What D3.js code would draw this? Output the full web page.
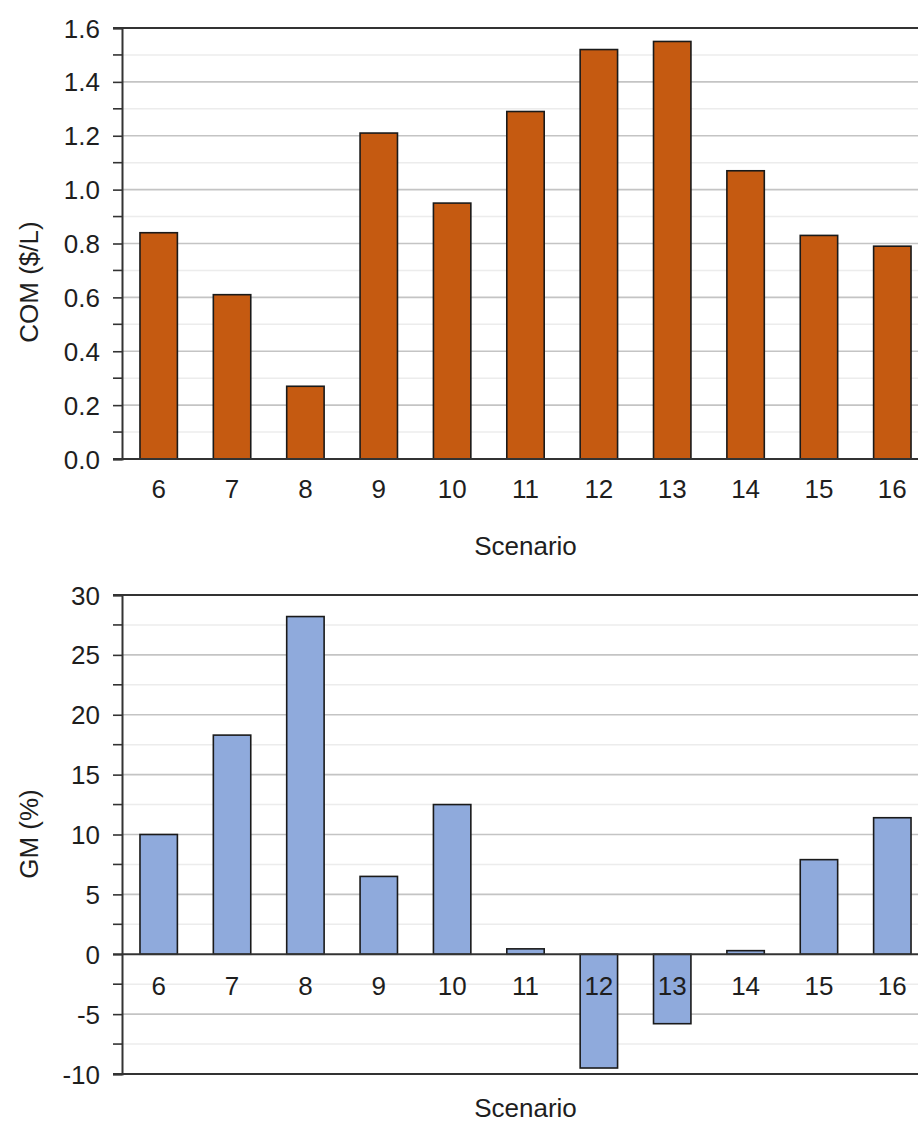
<!DOCTYPE html>
<html>
<head>
<meta charset="utf-8">
<script src="https://cdn.jsdelivr.net/npm/d3@7/dist/d3.min.js"></script>
<style>
  html, body { margin: 0; padding: 0; background: #fff; }
  svg { display: block; }
  text { font-family: "Liberation Sans", Arial, sans-serif; fill: #1e1e1e; }
</style>
</head>
<body>
<svg id="chart" width="918" height="1124"></svg>
<script>
const scenarios = ["6", "7", "8", "9", "10", "11", "12", "13", "14", "15", "16"];
const comValues = [0.84, 0.61, 0.27, 1.21, 0.95, 1.29, 1.52, 1.55, 1.07, 0.83, 0.79];
const gmValues  = [10.0, 18.3, 28.2, 6.5, 12.5, 0.45, -9.5, -5.8, 0.3, 7.9, 11.4];

const comTicks = [0, 0.2, 0.4, 0.6, 0.8, 1.0, 1.2, 1.4, 1.6];
const comMinor = [0.1, 0.3, 0.5, 0.7, 0.9, 1.1, 1.3, 1.5];
const gmTicks  = [-10, -5, 0, 5, 10, 15, 20, 25, 30];
const gmMinor  = [-7.5, -2.5, 2.5, 7.5, 12.5, 17.5, 22.5, 27.5];

const svg = d3.select("#chart");
const FS = 26;

function drawPanel(cfg) {
  const g = svg.append("g");
  const x = d3.scaleBand().domain(scenarios).range([cfg.left, cfg.right]).paddingInner(0.49).paddingOuter(0.245);
  const y = d3.scaleLinear().domain(cfg.domain).range([cfg.bottom, cfg.top]);

  // minor gridlines
  g.selectAll(".minor").data(cfg.minor).join("line")
    .attr("x1", cfg.left).attr("x2", cfg.right)
    .attr("y1", d => y(d)).attr("y2", d => y(d))
    .attr("stroke", "#ececec").attr("stroke-width", 1.5);
  // major gridlines
  g.selectAll(".major").data(cfg.ticks.filter(t => t !== cfg.domain[0] && t !== cfg.domain[1] && t !== 0)).join("line")
    .attr("x1", cfg.left).attr("x2", cfg.right)
    .attr("y1", d => y(d)).attr("y2", d => y(d))
    .attr("stroke", "#c4c4c4").attr("stroke-width", 1.6);

  // bars
  g.selectAll(".bar").data(cfg.values).join("rect")
    .attr("x", (d, i) => x(scenarios[i]))
    .attr("width", x.bandwidth())
    .attr("y", d => y(Math.max(0, d)))
    .attr("height", d => Math.abs(y(d) - y(0)))
    .attr("fill", cfg.color)
    .attr("stroke", "#1a1a1a").attr("stroke-width", 1.6);

  // frame top & bottom lines
  g.append("line").attr("x1", cfg.left - 9).attr("x2", cfg.right)
    .attr("y1", y(cfg.domain[1])).attr("y2", y(cfg.domain[1]))
    .attr("stroke", "#333").attr("stroke-width", 2);
  g.append("line").attr("x1", cfg.left - 9).attr("x2", cfg.right)
    .attr("y1", y(cfg.domain[0])).attr("y2", y(cfg.domain[0]))
    .attr("stroke", "#333").attr("stroke-width", 2);
  // zero line
  g.append("line").attr("x1", cfg.left - 9).attr("x2", cfg.right)
    .attr("y1", y(0)).attr("y2", y(0))
    .attr("stroke", "#333").attr("stroke-width", 2);

  // y axis
  const yAxis = d3.axisLeft(y).tickValues(cfg.ticks).tickSize(9).tickPadding(13)
    .tickFormat(cfg.fmt);
  const ya = g.append("g").attr("transform", `translate(${cfg.left},0)`).call(yAxis);
  ya.select(".domain").attr("stroke", "#333").attr("stroke-width", 2);
  ya.selectAll(".tick line").attr("stroke", "#333").attr("stroke-width", 1.6);
  ya.selectAll(".tick text").attr("font-size", FS).attr("fill", "#1e1e1e")
    .attr("font-family", "Liberation Sans, Arial, sans-serif").attr("dy", "0.35em");
  // minor ticks
  g.selectAll(".mtick").data(cfg.minor).join("line")
    .attr("x1", cfg.left - 9).attr("x2", cfg.left)
    .attr("y1", d => y(d)).attr("y2", d => y(d))
    .attr("stroke", "#333").attr("stroke-width", 1.6);

  // x labels
  g.selectAll(".xl").data(scenarios).join("text")
    .attr("x", d => x(d) + x.bandwidth() / 2)
    .attr("y", cfg.xLabelY)
    .attr("text-anchor", "middle").attr("dominant-baseline", "central")
    .attr("font-size", FS).text(d => d);

  // x title
  g.append("text").attr("x", (cfg.left + cfg.right) / 2).attr("y", cfg.xTitleY)
    .attr("text-anchor", "middle").attr("font-size", FS).text("Scenario");

  // y title
  g.append("text").attr("transform", `translate(${cfg.yTitleX},${cfg.yTitleY}) rotate(-90)`)
    .attr("text-anchor", "middle").attr("dominant-baseline", "central")
    .attr("font-size", FS).text(cfg.yTitle);
}

drawPanel({
  left: 122, right: 929, top: 28, bottom: 459,
  domain: [0, 1.6], ticks: comTicks, minor: comMinor,
  values: comValues, color: "#c55a11",
  fmt: d3.format(".1f"),
  xLabelY: 489, xTitleY: 555,
  yTitle: "COM ($/L)", yTitleX: 29, yTitleY: 282
});

drawPanel({
  left: 122, right: 929, top: 595, bottom: 1074,
  domain: [-10, 30], ticks: gmTicks, minor: gmMinor,
  values: gmValues, color: "#8faadc",
  fmt: d => String(d),
  xLabelY: 986, xTitleY: 1117,
  yTitle: "GM (%)", yTitleX: 29, yTitleY: 834
});
</script>
</body>
</html>
